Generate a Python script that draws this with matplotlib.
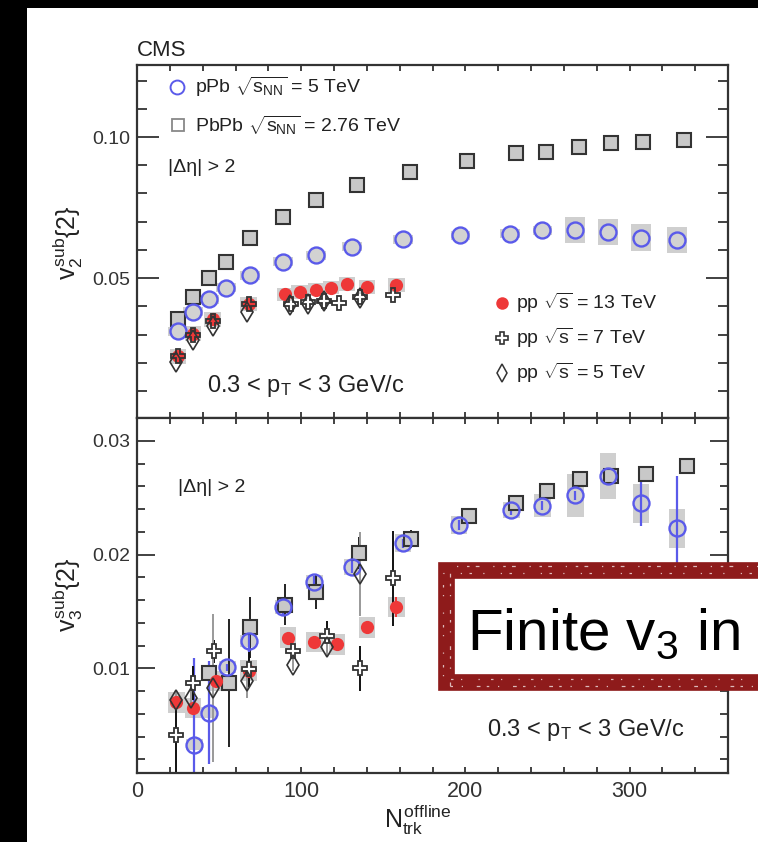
import matplotlib
matplotlib.use("Agg")
import matplotlib.pyplot as plt
from matplotlib.patches import Rectangle
from matplotlib.lines import Line2D
from matplotlib.ticker import MultipleLocator, FormatStrFormatter

plt.rcParams['font.family'] = ['Liberation Sans', 'DejaVu Sans']
plt.rcParams['mathtext.fontset'] = 'custom'
plt.rcParams['mathtext.rm'] = 'Liberation Sans'
plt.rcParams['mathtext.it'] = 'Liberation Sans'
plt.rcParams['mathtext.bf'] = 'Liberation Sans:bold'

# ---- v2 (upper panel) ----
pbpb_v2_x = [25, 34, 44, 54, 69, 89, 109, 134, 166, 201, 231, 249, 269, 289, 308, 333]
pbpb_v2 = [0.0357, 0.0434, 0.0500, 0.0558, 0.0644, 0.0717, 0.0777, 0.0830,
           0.0877, 0.0915, 0.0942, 0.0948, 0.0966, 0.0978, 0.0983, 0.0989]

ppb_v2_x = [25, 34, 44, 54, 69, 89, 109, 131, 162, 197, 227, 247, 267, 287, 307, 329]
ppb_v2 = [0.0313, 0.0381, 0.0426, 0.0467, 0.0511, 0.0558, 0.0582, 0.0611,
          0.0638, 0.0652, 0.0658, 0.0670, 0.0670, 0.0664, 0.0644, 0.0635]
ppb_v2_sys = [0.0016, 0.0016, 0.0016, 0.0016, 0.0016, 0.0016, 0.0016, 0.0016,
              0.0016, 0.0016, 0.0016, 0.0016, 0.0047, 0.0047, 0.0047, 0.0047]

pp13_v2_x = [25, 34, 46, 68, 90, 99, 109, 118, 128, 140, 158]
pp13_v2 = [0.0223, 0.0304, 0.0354, 0.0410, 0.0443, 0.0451, 0.0460, 0.0467, 0.0479, 0.0469, 0.0475]
pp13_v2_sys = [0.0028, 0.0026, 0.0025, 0.0025, 0.0024, 0.0024, 0.0024, 0.0024, 0.0024, 0.0024, 0.0024]

pp7_v2_x = [25, 34, 46, 68, 94, 104, 114, 123, 136, 156]
pp7_v2 = [0.0225, 0.0300, 0.0350, 0.0410, 0.0410, 0.0416, 0.0418, 0.0412, 0.0434, 0.0440]

pp5_v2_x = [24, 34, 46, 67, 93, 104, 114, 136]
pp5_v2 = [0.0203, 0.0280, 0.0330, 0.0380, 0.0404, 0.0409, 0.0420, 0.0430]

# ---- v3 (lower panel) ----
pbpb_v3_x = [44, 56, 69, 90, 109, 135, 167, 202, 231, 250, 270, 289, 310, 335]
pbpb_v3 = [0.0096, 0.0087, 0.0136, 0.0156, 0.0167, 0.0201, 0.0214, 0.0234,
           0.0245, 0.0256, 0.0266, 0.0269, 0.0271, 0.0278]
pbpb_v3_err = [0.0005, 0.0056, 0.0027, 0.0018, 0.0015, 0.0014, 0.0008, 0.0004,
               0.0004, 0.0004, 0.0004, 0.0004, 0.0004, 0.0004]

ppb_v3_x = [35, 44, 55, 68, 89, 108, 131, 162, 196, 228, 247, 267, 287, 307, 329]
ppb_v3 = [0.0033, 0.0061, 0.0101, 0.0124, 0.0154, 0.0176, 0.0189, 0.0210,
          0.0226, 0.0239, 0.0243, 0.0252, 0.0269, 0.0245, 0.0223]
ppb_v3_err = [0.0076, 0.0045, 0.0003, 0.0010, 0.0008, 0.0005, 0.0005, 0.0004,
              0.0004, 0.0004, 0.0004, 0.0004, 0.0007, 0.0020, 0.0046]
ppb_v3_sys = [0.0005, 0.0005, 0.0005, 0.0005, 0.0006, 0.0006, 0.0007, 0.0008,
              0.0008, 0.0007, 0.0010, 0.0019, 0.0020, 0.0017, 0.0017]

pp13_v3_x = [24, 34, 48, 68, 92, 108, 122, 140, 158]
pp13_v3 = [0.0070, 0.0065, 0.0089, 0.0098, 0.0127, 0.0123, 0.0121, 0.0136, 0.0154]
pp13_v3_err = [0.0004, 0.0004, 0.0004, 0.0004, 0.0003, 0.0003, 0.0003, 0.0004, 0.0009]
pp13_v3_sys = [0.0009, 0.0009, 0.0009, 0.0009, 0.0009, 0.0009, 0.0009, 0.0009, 0.0009]

pp7_v3_x = [24, 34, 47, 68, 95, 116, 136, 156]
pp7_v3 = [0.0041, 0.0087, 0.0115, 0.0099, 0.0115, 0.0128, 0.0100, 0.0179]
pp7_v3_err = [0.0035, 0.0015, 0.0010, 0.0015, 0.0006, 0.0014, 0.0020, 0.0042]

pp5_v3_x = [24, 33, 46, 67, 95, 116, 136]
pp5_v3 = [0.0072, 0.0074, 0.0083, 0.0089, 0.0103, 0.0119, 0.0183]
pp5_v3_err = [0.0008, 0.0010, 0.0065, 0.0015, 0.0005, 0.0008, 0.0037]

BLUE = '#5a5aea'
RED = '#ee3838'
DARK = '#333333'
BOXC = '#cfcfcf'
FRAME = '#8e1b1b'

W, H = 758, 842
fig = plt.figure(figsize=(W / 100, H / 100), dpi=100, facecolor='black')


def fx(px):
    return px / W


def fy(py):
    return 1 - py / H


# white page on the black background
fig.add_artist(Rectangle((fx(27), 0), 1, fy(8), transform=fig.transFigure,
                         facecolor='white', edgecolor='none', zorder=-10))

ax1 = fig.add_axes([fx(137), fy(418), fx(728) - fx(137), fy(65) - fy(418)])
ax2 = fig.add_axes([fx(137), fy(773), fx(728) - fx(137), fy(418) - fy(773)])


def style(ax, ymaj, ymin, lmaj, lmin):
    for s in ax.spines.values():
        s.set_linewidth(1.6)
        s.set_color(DARK)
    ax.set_xlim(0, 360)
    ax.xaxis.set_major_locator(MultipleLocator(100))
    ax.xaxis.set_minor_locator(MultipleLocator(20))
    ax.yaxis.set_major_locator(MultipleLocator(ymaj))
    ax.yaxis.set_minor_locator(MultipleLocator(ymin))
    ax.yaxis.set_major_formatter(FormatStrFormatter('%.2f'))
    ax.tick_params(which='both', direction='in', top=True, right=True,
                   color=DARK, labelcolor=DARK, width=1.3, labelsize=14)
    ax.tick_params(axis='x', which='both', length=4, pad=6, labelsize=15.5)
    ax.tick_params(axis='y', which='major', length=lmaj, pad=5)
    ax.tick_params(axis='y', which='minor', length=lmin)


def sys_boxes(ax, x, y, s, hw):
    ax.bar(x, [2 * v for v in s], width=2 * hw,
           bottom=[a - b for a, b in zip(y, s)], color=BOXC, linewidth=0, zorder=1)


# upper panel
style(ax1, 0.05, 0.01, 16, 7)
ax1.set_ylim(0.0005, 0.1255)
ax1.tick_params(axis='x', labelbottom=False)
sys_boxes(ax1, ppb_v2_x, ppb_v2, ppb_v2_sys, 6)
sys_boxes(ax1, pp13_v2_x, pp13_v2, pp13_v2_sys, 5)
ax1.plot(pbpb_v2_x, pbpb_v2, 's', ms=10, mfc='#c8c8c8', mec=DARK, mew=1.5, zorder=3)
ax1.plot(ppb_v2_x, ppb_v2, 'o', ms=11.5, mfc='#d2d2d2', mec=BLUE, mew=1.7, zorder=3)
ax1.plot(pp13_v2_x, pp13_v2, 'o', ms=9.5, mfc=RED, mec=RED, mew=0, zorder=4)
ax1.plot(pp7_v2_x, pp7_v2, 'P', ms=10, mfc='none', mec=DARK, mew=1.3, zorder=5)
ax1.plot(pp5_v2_x, pp5_v2, 'd', ms=10, mfc='none', mec=DARK, mew=1.2, zorder=5)

# lower panel
style(ax2, 0.01, 0.002, 13, 6)
ax2.set_ylim(0.0008, 0.032)
sys_boxes(ax2, ppb_v3_x, ppb_v3, ppb_v3_sys, 5)
sys_boxes(ax2, pp13_v3_x, pp13_v3, pp13_v3_sys, 5)
ax2.errorbar(pbpb_v3_x, pbpb_v3, yerr=pbpb_v3_err, fmt='none', ecolor='#222222', elinewidth=1.4, zorder=2)
ax2.errorbar(ppb_v3_x, ppb_v3, yerr=ppb_v3_err, fmt='none', ecolor=BLUE, elinewidth=1.6, zorder=2)
ax2.errorbar(pp13_v3_x, pp13_v3, yerr=pp13_v3_err, fmt='none', ecolor=RED, elinewidth=1.4, zorder=2)
ax2.errorbar(pp7_v3_x, pp7_v3, yerr=pp7_v3_err, fmt='none', ecolor='#111111', elinewidth=1.4, zorder=2)
ax2.errorbar(pp5_v3_x, pp5_v3, yerr=pp5_v3_err, fmt='none', ecolor='#999999', elinewidth=1.4, zorder=2)
ax2.plot(pbpb_v3_x, pbpb_v3, 's', ms=10, mfc='#c8c8c8', mec=DARK, mew=1.5, zorder=3)
ax2.plot(ppb_v3_x, ppb_v3, 'o', ms=11.5, mfc='none', mec=BLUE, mew=1.7, zorder=3)
ax2.plot(pp13_v3_x, pp13_v3, 'o', ms=9.5, mfc=RED, mec=RED, mew=0, zorder=4)
ax2.plot(pp7_v3_x, pp7_v3, 'P', ms=10, mfc='white', mec=DARK, mew=1.3, zorder=5)
ax2.plot(pp5_v3_x, pp5_v3, 'd', ms=10, mfc='none', mec=DARK, mew=1.2, zorder=5)

# axis titles
fig.text(fx(137), fy(50), 'CMS', fontsize=16, color='#222222', ha='left', va='center')
fig.text(fx(68), fy(243), r'$v_2^{sub}\{2\}$', fontsize=18, rotation=90,
         ha='center', va='center', color='#222222')
fig.text(fx(68), fy(595), r'$v_3^{sub}\{2\}$', fontsize=18, rotation=90,
         ha='center', va='center', color='#222222')
fig.text(fx(418), fy(820), r'$N_{trk}^{offline}$', fontsize=18,
         ha='center', va='center', color='#222222')

# legend entries and labels
TXT = dict(fontsize=14, color='#222222', va='center', ha='left')


def legend_mark(px, py, **kw):
    fig.add_artist(Line2D([fx(px)], [fy(py)], transform=fig.transFigure, **kw))


legend_mark(177, 87, marker='o', ms=10, mfc='none', mec=BLUE, mew=1.4, ls='none')
fig.text(fx(195), fy(87), r'pPb $\sqrt{s_{NN}}$ = 5 TeV', **TXT)
legend_mark(178, 125, marker='s', ms=9, mfc='none', mec='#888888', mew=1.3, ls='none')
fig.text(fx(195), fy(125), r'PbPb $\sqrt{s_{NN}}$ = 2.76 TeV', **TXT)
fig.text(fx(168), fy(168), '|Δη| > 2', **TXT)
fig.text(fx(207), fy(386), r'0.3 < p$_T$ < 3 GeV/c', fontsize=17, color='#222222', va='center', ha='left')

legend_mark(502, 303, marker='o', ms=9, mfc=RED, mec=RED, mew=0, ls='none')
fig.text(fx(516), fy(303), r'pp $\sqrt{s}$ = 13 TeV', **TXT)
legend_mark(502, 338, marker='P', ms=9, mfc='none', mec=DARK, mew=1.2, ls='none')
fig.text(fx(516), fy(338), r'pp $\sqrt{s}$ = 7 TeV', **TXT)
legend_mark(502, 373, marker='d', ms=9, mfc='none', mec=DARK, mew=1.1, ls='none')
fig.text(fx(516), fy(373), r'pp $\sqrt{s}$ = 5 TeV', **TXT)

fig.text(fx(178), fy(487), '|Δη| > 2', **TXT)
fig.text(fx(487), fy(730), r'0.3 < p$_T$ < 3 GeV/c', fontsize=17, color='#222222', va='center', ha='left')

# highlighted statement box, running off the right edge, with a worn brush edge
fig.add_artist(Rectangle((fx(446), fy(682)), 1, fy(570) - fy(682), transform=fig.transFigure,
                         facecolor='white', edgecolor=FRAME, linewidth=12, zorder=6))
for off, pattern in [(-4, (0, (2, 7, 1, 11, 3, 5))), (3, (4, (1, 9, 2, 6, 1, 13)))]:
    fig.add_artist(Rectangle((fx(446 - off), fy(682 - off)), 1, fy(570 + off) - fy(682 - off),
                             transform=fig.transFigure, facecolor='none', edgecolor='white',
                             linewidth=0.9, linestyle=pattern, alpha=0.7, zorder=6.5))
fig.text(fx(467), fy(650), r'Finite v$_3$ in', fontsize=42,
         color='black', ha='left', va='baseline', zorder=7)

fig.savefig('out.png', dpi=100, facecolor='black')
